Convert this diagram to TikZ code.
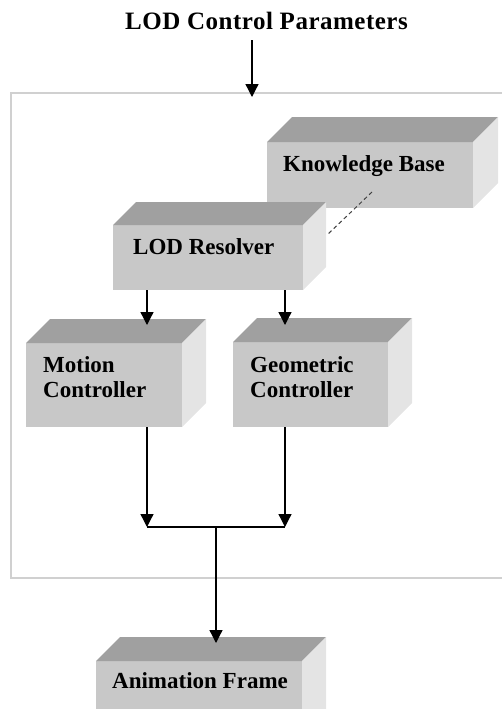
\documentclass[tikz,border=0pt]{standalone}
\usepackage{fontspec}
\setmainfont{Liberation Serif}
\newfontfamily\titlefont[LetterSpace=2]{Liberation Serif}
\usetikzlibrary{arrows.meta}
\definecolor{frontc}{HTML}{C8C8C8}
\definecolor{topc}{HTML}{A0A0A0}
\definecolor{sidec}{HTML}{E4E4E4}
\definecolor{framec}{HTML}{D0D0D0}
\newcommand\cubefaces[2]{%
  \fill[topc] (#1.north west) -- ++(#2,-#2) -- ([shift={(#2,-#2)}]#1.north east) -- (#1.north east) -- cycle;
  \fill[sidec] (#1.north east) -- ++(#2,-#2) -- ([shift={(#2,-#2)}]#1.south east) -- (#1.south east) -- cycle;
}
\begin{document}
\begin{tikzpicture}[x=1pt,y=-1pt,
  front/.style={fill=frontc, draw=none, inner sep=0pt, outer sep=0pt, anchor=north west},
  lbl/.style={font=\fontsize{23}{25}\selectfont\bfseries, anchor=base west, inner sep=0pt, align=left},
  titlelbl/.style={font=\fontsize{25}{27}\selectfont\titlefont\bfseries, anchor=base west, inner sep=0pt},
  conn/.style={line width=1.3pt},
  arr/.style={conn, -{Triangle[width=13pt,length=13pt]}},
  dashconn/.style={line width=1pt, draw=black!75, dash pattern=on 4pt off 3pt},
]
\useasboundingbox (0,0) rectangle (502,709);
\clip (0,0) rectangle (502,709);

% frame
\node[draw=framec, line width=2pt, minimum width=540pt, minimum height=485pt, anchor=north west, inner sep=0pt] (frame) at (10,92) {};

% title
\node[titlelbl] (title) at (125,30) {LOD Control Parameters};

% boxes
\node[front, minimum width=206pt, minimum height=66pt] (kb) at (267,142) {};
\cubefaces{kb}{25}
\node[lbl] (kbl) at (283,171) {Knowledge Base};

\node[front, minimum width=190pt, minimum height=65pt] (lr) at (113,225) {};
\cubefaces{lr}{23}
\node[lbl] (lrl) at (133,254) {LOD Resolver};

\node[front, minimum width=156pt, minimum height=84pt] (mc) at (26,343) {};
\cubefaces{mc}{24}
\node[lbl] (mcl) at (43,397) {Motion\\Controller};

\node[front, minimum width=155pt, minimum height=85pt] (gc) at (233,342) {};
\cubefaces{gc}{24}
\node[lbl] (gcl) at (250,397) {Geometric\\Controller};

\node[front, minimum width=206pt, minimum height=90pt] (af) at (96,661) {};
\cubefaces{af}{24}
\node[lbl] (afl) at (112,688) {Animation Frame};

% dashed link
\coordinate (d1) at (372,192);
\coordinate (d2) at (327,235);
\draw[dashconn] (d1) -- (d2);

% connectors
\coordinate (in1) at (252,97);
\draw[arr] ([yshift=-10pt]title.south -| in1) -- (in1);

\coordinate (t1) at (147,325);
\coordinate (t2) at (285,325);
\draw[arr] (lr.south -| t1) -- (t1);
\draw[arr] (lr.south -| t2) -- (t2);

\coordinate (jl) at (147,527);
\coordinate (jr) at (285,527);
\coordinate (jm) at (216,527);
\draw[arr] (mc.south -| jl) -- (jl);
\draw[arr] (gc.south -| jr) -- (jr);
\draw[conn] (jl) -- (jr);
\coordinate (t3) at (216,643);
\draw[arr] (jm) -- (t3);
\end{tikzpicture}
\end{document}
